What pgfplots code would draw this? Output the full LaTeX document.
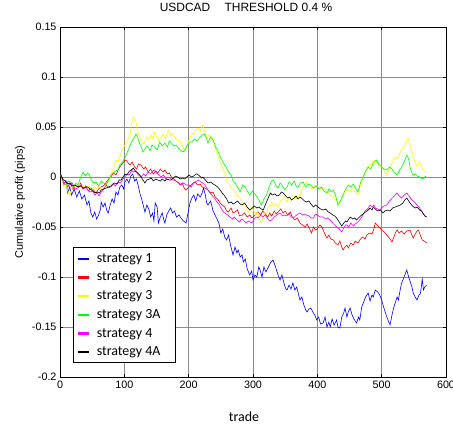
\documentclass[border=0pt]{standalone}
\usepackage{fontspec}
\setmainfont{Liberation Sans}
\newfontfamily\carlito{Carlito}
\usepackage{pgfplots}
\pgfplotsset{compat=1.18}
\definecolor{s1}{rgb}{0,0,1}
\definecolor{s2}{rgb}{1,0,0}
\definecolor{s3}{rgb}{1,1,0}
\definecolor{s3a}{rgb}{0,1,0}
\definecolor{s4}{rgb}{1,0,1}
\definecolor{s4a}{rgb}{0,0,0}
\pgfplotsset{leg/.style={draw=#1, legend image code/.code={\fill[#1] (0bp,-0.65bp) rectangle (10bp,0.65bp);}}}

\begin{document}
\begin{tikzpicture}
\begin{axis}[
  scale only axis,
  width=386bp, height=350bp,
  xmin=0, xmax=600, ymin=-0.2, ymax=0.15,
  xtick={0,100,...,600},
  xticklabels={0,100,200,300,400,500,600},
  ytick={-0.2,-0.15,-0.1,-0.05,0,0.05,0.1,0.15},
  yticklabels={-0.2,-0.15,-0.1,-0.05,0,0.05,0.1,0.15},
  tick label style={font=\fontsize{10.8}{12}\selectfont},
  tick align=inside,
  major tick length=3bp,
  tick style={black, line width=0.5bp},
  axis line style={black, line width=1bp},
  grid=major,
  grid style={black!45, line width=0.5bp},
  title={USDCAD\hspace{1.2em}THRESHOLD 0.4 \%},
  title style={font=\fontsize{12}{14}\selectfont, at={(axis description cs:0.5,1)}, anchor=base, yshift=10bp, xshift=-7bp},
  xlabel={trade},
  xlabel style={font=\carlito\fontsize{14}{16}\selectfont, at={(axis description cs:0.5,0)}, anchor=base, yshift=-44bp, xshift=-9bp},
  ylabel={Cumulative profit (pips)},
  ylabel style={font=\fontsize{11}{13}\selectfont, at={(axis description cs:-0.0959,0.5)}, anchor=base},
  legend style={font=\carlito\fontsize{14}{16}\selectfont, draw=black, line width=0.9bp,
    at={(axis description cs:0.033,0.04)}, anchor=south west, row sep=4.2bp, column sep=6bp,
    inner xsep=5bp, inner ysep=3.4bp},
  legend cell align=left,
  every axis plot/.append style={line width=0.6bp},
]
\addplot[leg=s1] coordinates {
(0,0.004) (3,0.000) (6,-0.008) (9,-0.004) (12,-0.016) (15,-0.010) (18,-0.018) (22,-0.012) (26,-0.020) (30,-0.014) (34,-0.022) (38,-0.018) (42,-0.028) (45,-0.024) (48,-0.036) (51,-0.040) (54,-0.035) (57,-0.042) (60,-0.038) (63,-0.032) (64,-0.025) (67,-0.030) (70,-0.026) (73,-0.034) (75,-0.036) (78,-0.028) (81,-0.022) (84,-0.026) (87,-0.015) (90,-0.018) (93,-0.010) (96,-0.008) (99,-0.012) (101,-0.005) (104,-0.002) (107,-0.006) (110,0.001) (113,0.003) (116,-0.004) (119,-0.002) (122,-0.010) (124,-0.016) (127,-0.022) (130,-0.030) (132,-0.035) (135,-0.028) (138,-0.032) (141,-0.040) (144,-0.036) (146,-0.044) (148,-0.026) (151,-0.030) (153,-0.046) (156,-0.040) (159,-0.036) (161,-0.042) (163,-0.046) (166,-0.038) (169,-0.034) (172,-0.031) (175,-0.036) (178,-0.034) (181,-0.040) (185,-0.038) (188,-0.041) (192,-0.044) (196,-0.046) (199,-0.036) (202,-0.026) (205,-0.021) (208,-0.018) (211,-0.024) (214,-0.017) (218,-0.020) (221,-0.016) (223,-0.011) (226,-0.018) (228,-0.026) (230,-0.028) (234,-0.024) (238,-0.034) (241,-0.038) (244,-0.042) (247,-0.046) (250,-0.056) (253,-0.052) (256,-0.060) (259,-0.063) (262,-0.058) (265,-0.068) (269,-0.078) (272,-0.070) (275,-0.076) (277,-0.073) (280,-0.080) (283,-0.078) (285,-0.085) (288,-0.082) (291,-0.092) (295,-0.098) (298,-0.094) (300,-0.103) (303,-0.098) (306,-0.100) (309,-0.090) (311,-0.093) (314,-0.100) (317,-0.090) (320,-0.095) (324,-0.090) (327,-0.086) (331,-0.083) (334,-0.088) (337,-0.094) (340,-0.100) (342,-0.103) (345,-0.098) (348,-0.106) (351,-0.112) (353,-0.113) (356,-0.108) (359,-0.112) (362,-0.106) (365,-0.113) (368,-0.110) (371,-0.118) (373,-0.123) (376,-0.120) (379,-0.128) (382,-0.133) (384,-0.135) (387,-0.132) (390,-0.131) (393,-0.135) (396,-0.138) (399,-0.143) (402,-0.140) (405,-0.147) (409,-0.146) (412,-0.140) (415,-0.150) (418,-0.145) (420,-0.150) (423,-0.142) (426,-0.148) (430,-0.143) (432,-0.150) (435,-0.151) (438,-0.140) (441,-0.136) (443,-0.131) (446,-0.140) (448,-0.135) (451,-0.131) (454,-0.138) (457,-0.142) (461,-0.146) (464,-0.140) (466,-0.143) (469,-0.130) (472,-0.125) (475,-0.120) (479,-0.116) (482,-0.124) (485,-0.118) (487,-0.120) (490,-0.113) (494,-0.115) (497,-0.118) (500,-0.123) (503,-0.130) (506,-0.136) (508,-0.140) (511,-0.145) (513,-0.148) (516,-0.138) (519,-0.130) (521,-0.126) (524,-0.120) (526,-0.123) (529,-0.112) (531,-0.106) (533,-0.103) (536,-0.098) (539,-0.093) (542,-0.100) (544,-0.104) (547,-0.110) (549,-0.116) (552,-0.120) (555,-0.123) (558,-0.118) (560,-0.117) (562,-0.108) (563,-0.102) (565,-0.113) (567,-0.110) (570,-0.108)
};
\addplot[leg=s2] coordinates {
(0,0.004) (3,-0.002) (6,-0.008) (9,-0.004) (12,-0.010) (16,-0.006) (20,-0.012) (24,-0.008) (28,-0.010) (32,-0.006) (36,-0.012) (40,-0.009) (44,-0.014) (48,-0.011) (52,-0.013) (56,-0.016) (60,-0.012) (64,-0.010) (69,-0.008) (73,-0.004) (76,-0.002) (79,0.000) (83,0.004) (87,0.002) (91,0.008) (95,0.012) (98,0.014) (101,0.017) (104,0.016) (106,0.014) (109,0.012) (112,0.015) (116,0.010) (119,0.008) (122,0.013) (126,0.012) (130,0.008) (133,0.010) (137,0.005) (141,0.008) (145,0.003) (149,0.006) (152,0.004) (156,0.008) (160,0.005) (163,0.007) (167,0.003) (170,0.004) (173,0.000) (177,-0.002) (180,-0.004) (183,-0.005) (187,-0.008) (190,-0.006) (193,-0.011) (196,-0.013) (200,-0.010) (204,-0.008) (207,-0.006) (210,-0.005) (214,-0.008) (218,-0.007) (221,-0.010) (225,-0.011) (230,-0.013) (234,-0.016) (238,-0.015) (241,-0.020) (245,-0.022) (249,-0.026) (252,-0.028) (256,-0.030) (259,-0.034) (262,-0.035) (266,-0.031) (269,-0.036) (272,-0.035) (276,-0.033) (279,-0.039) (283,-0.038) (287,-0.036) (291,-0.040) (295,-0.038) (298,-0.041) (302,-0.039) (305,-0.037) (308,-0.035) (312,-0.038) (315,-0.034) (319,-0.037) (323,-0.040) (326,-0.036) (329,-0.039) (333,-0.034) (336,-0.037) (339,-0.035) (343,-0.032) (347,-0.036) (350,-0.034) (354,-0.038) (358,-0.035) (361,-0.040) (365,-0.043) (369,-0.041) (373,-0.046) (377,-0.048) (381,-0.050) (384,-0.047) (388,-0.052) (391,-0.056) (394,-0.050) (397,-0.053) (400,-0.052) (404,-0.048) (407,-0.050) (411,-0.056) (415,-0.061) (418,-0.058) (421,-0.062) (425,-0.063) (428,-0.066) (432,-0.068) (435,-0.064) (438,-0.070) (440,-0.073) (443,-0.070) (446,-0.068) (448,-0.071) (452,-0.066) (456,-0.068) (459,-0.064) (463,-0.066) (466,-0.063) (470,-0.060) (474,-0.062) (477,-0.058) (481,-0.056) (485,-0.057) (488,-0.052) (490,-0.046) (493,-0.048) (496,-0.050) (500,-0.053) (504,-0.055) (508,-0.058) (512,-0.061) (516,-0.065) (519,-0.060) (522,-0.055) (524,-0.053) (527,-0.056) (531,-0.054) (535,-0.057) (539,-0.054) (544,-0.053) (547,-0.058) (549,-0.061) (552,-0.057) (555,-0.054) (557,-0.053) (560,-0.058) (563,-0.063) (566,-0.064) (570,-0.066)
};
\addplot[leg=s3] coordinates {
(0,0.004) (3,-0.002) (6,-0.010) (9,-0.006) (12,-0.014) (15,-0.018) (18,-0.012) (21,-0.008) (25,-0.011) (29,-0.006) (33,-0.010) (37,-0.008) (41,-0.012) (45,-0.009) (49,-0.013) (53,-0.010) (57,-0.012) (61,-0.009) (65,-0.013) (69,-0.012) (72,-0.008) (75,-0.005) (78,-0.001) (81,0.005) (84,0.010) (87,0.017) (90,0.015) (94,0.022) (97,0.028) (101,0.032) (104,0.036) (107,0.040) (109,0.042) (111,0.052) (114,0.060) (116,0.058) (118,0.055) (120,0.048) (122,0.044) (124,0.040) (127,0.036) (130,0.033) (132,0.035) (135,0.040) (138,0.037) (142,0.042) (145,0.038) (147,0.045) (150,0.040) (153,0.036) (157,0.040) (160,0.043) (164,0.038) (168,0.047) (171,0.042) (174,0.044) (178,0.040) (181,0.038) (185,0.036) (189,0.034) (191,0.030) (194,0.025) (197,0.030) (200,0.036) (202,0.039) (205,0.044) (208,0.042) (211,0.047) (215,0.049) (218,0.046) (222,0.052) (225,0.046) (228,0.039) (232,0.042) (236,0.040) (240,0.032) (244,0.024) (248,0.016) (252,0.010) (256,0.004) (260,-0.005) (264,-0.008) (267,-0.012) (270,-0.013) (274,-0.017) (277,-0.020) (281,-0.022) (285,-0.026) (289,-0.030) (293,-0.035) (296,-0.030) (300,-0.032) (304,-0.038) (307,-0.034) (310,-0.042) (313,-0.046) (316,-0.040) (319,-0.035) (321,-0.037) (324,-0.030) (327,-0.028) (329,-0.025) (332,-0.029) (336,-0.027) (339,-0.030) (343,-0.024) (346,-0.022) (349,-0.020) (353,-0.025) (356,-0.021) (360,-0.023) (364,-0.019) (368,-0.022) (373,-0.018) (376,-0.013) (380,-0.008) (383,-0.005) (387,-0.009) (391,-0.012) (394,-0.011) (398,-0.008) (401,-0.010) (405,-0.012) (409,-0.010) (413,-0.014) (417,-0.016) (420,-0.018) (424,-0.020) (428,-0.022) (432,-0.025) (435,-0.026) (439,-0.020) (443,-0.015) (446,-0.013) (450,-0.015) (454,-0.011) (457,-0.014) (460,-0.016) (463,-0.018) (467,-0.008) (471,0.000) (475,0.005) (478,0.010) (482,0.012) (486,0.015) (490,0.017) (493,0.014) (497,0.012) (500,0.010) (504,0.006) (508,0.002) (512,0.008) (515,0.012) (518,0.017) (522,0.020) (525,0.018) (529,0.025) (532,0.028) (536,0.032) (539,0.036) (541,0.039) (544,0.032) (547,0.025) (550,0.018) (553,0.014) (555,0.010) (558,0.015) (560,0.013) (563,0.009) (566,0.006) (569,0.005)
};
\addplot[leg=s3a] coordinates {
(0,0.004) (3,0.000) (6,-0.006) (10,-0.008) (13,-0.004) (17,-0.005) (21,-0.010) (25,-0.006) (28,-0.008) (31,-0.002) (34,0.002) (36,0.005) (39,0.001) (43,0.004) (46,0.002) (48,-0.002) (52,-0.006) (56,-0.005) (60,-0.009) (64,-0.004) (68,-0.006) (72,-0.008) (76,-0.002) (79,0.002) (83,0.004) (86,0.006) (90,0.007) (93,0.012) (97,0.015) (101,0.019) (104,0.024) (107,0.028) (109,0.032) (112,0.036) (116,0.040) (118,0.043) (121,0.039) (124,0.033) (127,0.029) (129,0.025) (132,0.028) (135,0.031) (137,0.030) (140,0.026) (143,0.032) (147,0.030) (151,0.027) (155,0.035) (159,0.031) (163,0.034) (167,0.030) (170,0.036) (173,0.034) (177,0.031) (181,0.032) (184,0.029) (187,0.027) (191,0.025) (194,0.027) (198,0.032) (202,0.035) (205,0.035) (209,0.038) (213,0.036) (218,0.040) (221,0.042) (225,0.043) (228,0.038) (230,0.034) (234,0.040) (238,0.037) (242,0.030) (246,0.025) (250,0.019) (254,0.014) (258,0.010) (262,0.005) (266,0.002) (269,-0.004) (272,-0.006) (276,-0.010) (280,-0.015) (284,-0.008) (288,-0.010) (291,-0.014) (295,-0.018) (299,-0.014) (303,-0.017) (306,-0.020) (310,-0.024) (313,-0.028) (317,-0.022) (321,-0.018) (325,-0.010) (328,-0.005) (332,-0.003) (335,-0.008) (339,-0.011) (342,-0.006) (346,-0.009) (349,-0.013) (353,-0.010) (356,-0.005) (360,-0.008) (364,-0.004) (367,-0.009) (370,-0.010) (374,-0.006) (378,-0.005) (382,-0.010) (386,-0.007) (390,-0.008) (394,-0.011) (398,-0.009) (402,-0.012) (406,-0.010) (410,-0.014) (415,-0.016) (418,-0.012) (422,-0.015) (425,-0.013) (429,-0.020) (432,-0.028) (436,-0.024) (440,-0.018) (444,-0.012) (448,-0.008) (452,-0.010) (456,-0.007) (460,-0.012) (463,-0.015) (467,-0.006) (471,0.000) (475,0.006) (479,0.010) (483,0.008) (487,0.014) (490,0.016) (492,0.017) (496,0.012) (500,0.010) (504,0.008) (508,0.007) (512,0.010) (516,0.008) (520,0.004) (524,0.002) (528,0.007) (531,0.010) (535,0.015) (539,0.022) (542,0.018) (544,0.010) (547,0.004) (549,0.002) (552,0.003) (555,0.001) (559,0.000) (563,-0.002) (566,-0.001) (569,0.001)
};
\addplot[leg=s4] coordinates {
(0,0.004) (3,-0.001) (6,-0.006) (10,-0.004) (15,-0.008) (19,-0.006) (23,-0.012) (28,-0.011) (32,-0.008) (36,-0.012) (40,-0.010) (43,-0.013) (47,-0.015) (51,-0.014) (54,-0.018) (58,-0.016) (61,-0.019) (64,-0.015) (68,-0.012) (72,-0.008) (75,-0.011) (79,-0.010) (83,-0.007) (86,-0.009) (90,-0.005) (94,-0.006) (98,-0.002) (101,0.000) (104,0.003) (108,0.002) (111,0.007) (114,0.005) (118,0.006) (122,0.002) (126,0.000) (130,0.003) (133,0.001) (137,0.005) (141,0.003) (144,0.006) (147,0.007) (150,0.004) (154,0.002) (157,0.000) (161,0.002) (164,-0.002) (168,0.000) (171,-0.001) (175,-0.003) (178,-0.003) (182,-0.005) (185,-0.006) (189,-0.008) (192,-0.006) (196,-0.008) (200,-0.008) (204,-0.010) (207,-0.006) (210,-0.005) (213,-0.004) (215,-0.003) (219,-0.005) (222,-0.006) (225,-0.008) (229,-0.012) (233,-0.016) (236,-0.018) (240,-0.021) (244,-0.025) (248,-0.028) (251,-0.032) (254,-0.035) (258,-0.037) (261,-0.038) (264,-0.040) (268,-0.042) (271,-0.040) (275,-0.043) (279,-0.045) (282,-0.042) (285,-0.043) (289,-0.046) (293,-0.044) (298,-0.046) (302,-0.042) (305,-0.040) (308,-0.041) (312,-0.038) (315,-0.040) (319,-0.038) (322,-0.041) (326,-0.044) (329,-0.043) (333,-0.040) (337,-0.038) (342,-0.036) (346,-0.039) (349,-0.038) (352,-0.039) (356,-0.036) (359,-0.040) (363,-0.041) (366,-0.039) (370,-0.037) (373,-0.036) (377,-0.038) (380,-0.037) (383,-0.038) (387,-0.039) (390,-0.041) (394,-0.041) (397,-0.037) (400,-0.038) (404,-0.040) (409,-0.040) (413,-0.042) (416,-0.041) (420,-0.043) (424,-0.046) (427,-0.048) (430,-0.050) (434,-0.052) (438,-0.055) (441,-0.051) (444,-0.048) (446,-0.048) (449,-0.050) (452,-0.046) (456,-0.049) (459,-0.047) (463,-0.045) (467,-0.042) (471,-0.038) (474,-0.034) (478,-0.032) (482,-0.028) (485,-0.030) (488,-0.028) (490,-0.031) (494,-0.032) (497,-0.033) (501,-0.030) (504,-0.029) (508,-0.028) (512,-0.024) (515,-0.022) (518,-0.020) (521,-0.018) (524,-0.016) (527,-0.019) (531,-0.021) (535,-0.018) (539,-0.016) (542,-0.019) (545,-0.021) (547,-0.023) (551,-0.025) (555,-0.028) (558,-0.030) (561,-0.033) (563,-0.035) (566,-0.038) (569,-0.040)
};
\addplot[leg=s4a] coordinates {
(0,0.004) (4,-0.002) (8,-0.004) (12,-0.007) (15,-0.006) (19,-0.009) (23,-0.008) (28,-0.010) (32,-0.009) (36,-0.011) (40,-0.010) (43,-0.010) (47,-0.012) (51,-0.014) (54,-0.016) (58,-0.015) (61,-0.016) (64,-0.013) (68,-0.012) (72,-0.011) (75,-0.010) (79,-0.009) (82,-0.007) (85,-0.006) (89,-0.007) (92,-0.003) (95,-0.003) (98,0.000) (101,0.003) (104,0.002) (108,0.006) (111,0.007) (114,0.009) (117,0.006) (121,0.004) (124,0.002) (128,-0.002) (132,-0.006) (135,-0.003) (139,-0.002) (142,-0.001) (145,-0.004) (149,-0.002) (152,-0.003) (156,-0.004) (159,-0.002) (163,-0.004) (166,-0.002) (170,-0.003) (173,-0.003) (176,-0.001) (180,0.001) (183,0.000) (187,-0.002) (190,-0.001) (194,-0.002) (197,0.000) (201,0.002) (204,0.000) (208,0.001) (211,0.003) (213,0.003) (217,0.001) (220,-0.001) (222,0.000) (226,-0.003) (230,-0.006) (234,-0.005) (238,-0.007) (241,-0.008) (245,-0.010) (249,-0.013) (252,-0.016) (255,-0.018) (259,-0.022) (262,-0.026) (266,-0.025) (269,-0.027) (272,-0.026) (276,-0.024) (280,-0.027) (283,-0.028) (287,-0.026) (291,-0.030) (295,-0.033) (299,-0.031) (302,-0.029) (306,-0.031) (309,-0.030) (313,-0.032) (316,-0.033) (319,-0.028) (323,-0.022) (327,-0.016) (330,-0.018) (334,-0.017) (337,-0.019) (341,-0.018) (344,-0.015) (347,-0.016) (351,-0.019) (354,-0.021) (357,-0.020) (360,-0.023) (364,-0.021) (367,-0.019) (370,-0.022) (373,-0.020) (377,-0.022) (380,-0.024) (383,-0.025) (387,-0.024) (390,-0.027) (394,-0.030) (397,-0.028) (401,-0.030) (405,-0.032) (409,-0.033) (413,-0.032) (417,-0.035) (420,-0.036) (424,-0.038) (427,-0.039) (430,-0.041) (434,-0.045) (438,-0.049) (441,-0.046) (444,-0.044) (446,-0.045) (449,-0.042) (451,-0.040) (455,-0.042) (458,-0.041) (461,-0.043) (464,-0.041) (467,-0.039) (471,-0.037) (475,-0.035) (479,-0.033) (482,-0.031) (485,-0.033) (487,-0.030) (490,-0.032) (494,-0.034) (498,-0.033) (502,-0.036) (505,-0.034) (509,-0.033) (513,-0.034) (517,-0.031) (521,-0.030) (525,-0.029) (529,-0.028) (533,-0.026) (536,-0.023) (539,-0.021) (542,-0.024) (544,-0.026) (548,-0.029) (552,-0.031) (555,-0.030) (559,-0.033) (562,-0.034) (565,-0.037) (567,-0.039) (570,-0.040)
};
\legend{strategy 1,strategy 2,strategy 3,strategy 3A\hspace{8bp}\mbox{},strategy 4,strategy 4A}
\end{axis}
\pgfresetboundingbox
\path[use as bounding box] (rel axis cs:0,0) ++(-60bp,-52bp) rectangle ([xshift=7bp,yshift=27bp]rel axis cs:1,1);
\end{tikzpicture}
\end{document}
